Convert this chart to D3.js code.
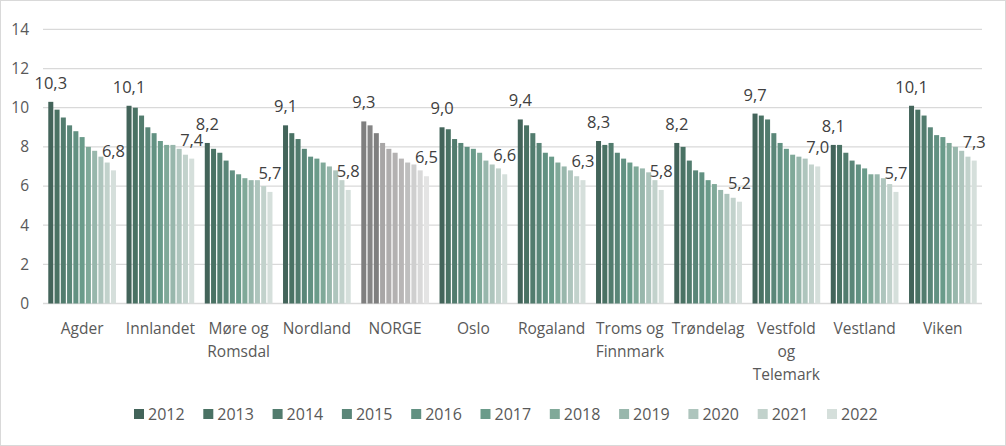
<!DOCTYPE html>
<html>
<head>
<meta charset="utf-8">
<script src="https://cdn.jsdelivr.net/npm/d3@7"></script>
<style>
  html, body { margin: 0; padding: 0; background: #fff; }
  svg { display: block; }
  text { font-family: "Open Sans", "Liberation Sans", sans-serif; }
</style>
</head>
<body>
<svg id="chart" width="1006" height="446"></svg>
<script>
const categories = ["Agder", "Innlandet", "Møre og Romsdal", "Nordland", "NORGE", "Oslo",
  "Rogaland", "Troms og Finnmark", "Trøndelag", "Vestfold og Telemark", "Vestland", "Viken"];
const years = ["2012", "2013", "2014", "2015", "2016", "2017", "2018", "2019", "2020", "2021", "2022"];

const agder      = [10.3, 9.9, 9.5, 9.1, 8.8, 8.5, 8.0, 7.8, 7.5, 7.2, 6.8];
const innlandet  = [10.1, 10.0, 9.6, 9.0, 8.7, 8.3, 8.1, 8.1, 7.9, 7.6, 7.4];
const moreRomsdal= [8.2, 7.9, 7.7, 7.3, 6.8, 6.6, 6.4, 6.3, 6.3, 6.0, 5.7];
const nordland   = [9.1, 8.7, 8.4, 7.9, 7.5, 7.4, 7.2, 7.0, 6.8, 6.3, 5.8];
const norge      = [9.3, 9.1, 8.7, 8.2, 7.9, 7.7, 7.4, 7.2, 7.1, 6.8, 6.5];
const oslo       = [9.0, 8.9, 8.4, 8.2, 8.0, 7.9, 7.7, 7.3, 7.1, 6.9, 6.6];
const rogaland   = [9.4, 9.1, 8.7, 8.2, 7.7, 7.5, 7.2, 7.0, 6.8, 6.5, 6.3];
const tromsFinnmark = [8.3, 8.1, 8.2, 7.7, 7.4, 7.2, 7.0, 6.9, 6.7, 6.3, 5.8];
const trondelag  = [8.2, 8.0, 7.3, 6.8, 6.7, 6.3, 6.1, 5.8, 5.6, 5.4, 5.2];
const vestfoldTelemark = [9.7, 9.6, 9.4, 8.7, 8.2, 7.9, 7.6, 7.5, 7.4, 7.1, 7.0];
const vestland   = [8.1, 8.1, 7.7, 7.3, 7.1, 6.9, 6.6, 6.6, 6.4, 6.1, 5.7];
const viken      = [10.1, 9.9, 9.6, 9.0, 8.6, 8.5, 8.2, 8.0, 7.8, 7.5, 7.3];

const yTicks = [0, 2, 4, 6, 8, 10, 12, 14];

const greenColors = ["#43645A", "#4A7264", "#527C6E", "#5A8678", "#629182", "#6A9B8A",
  "#80A999", "#98B7AC", "#AEC5BD", "#C2D2CC", "#D5DFDB"];
const grayColors = ["#7F7F7F", "#858585", "#7F7F7F", "#A8A6A6", "#AFADAD", "#B3B1B1",
  "#B8B6B6", "#BFBFBF", "#CFCFCF", "#D9D9D9", "#E4E4E4"];

const seriesByCat = [agder, innlandet, moreRomsdal, nordland, norge, oslo, rogaland,
  tromsFinnmark, trondelag, vestfoldTelemark, vestland, viken];

const svg = d3.select("#chart");
const W = 1006, H = 446;

// border
svg.append("rect").attr("x", 0.5).attr("y", 0.5).attr("width", W - 1).attr("height", H - 1)
  .attr("fill", "#fff").attr("stroke", "#D9D9D9").attr("stroke-width", 1);

const plotLeft = 43, plotRight = 982, plotBottom = 303.5, plotTop = 29.4;

const y = d3.scaleLinear().domain([0, 14]).range([plotBottom, plotTop]);
const x0 = d3.scaleBand().domain(categories).range([plotLeft, plotRight])
  .paddingInner(0.135).paddingOuter(0.0675);
const x1 = d3.scaleBand().domain(years).range([0, x0.bandwidth()]).paddingInner(0.2);

// gridlines
svg.append("g").selectAll("line").data(yTicks).join("line")
  .attr("x1", plotLeft).attr("x2", plotRight)
  .attr("y1", d => y(d)).attr("y2", d => y(d))
  .attr("stroke", "#D9D9D9").attr("stroke-width", 1.3);

// y tick labels
svg.append("g").selectAll("text").data(yTicks).join("text")
  .attr("x", 29).attr("y", d => y(d)).attr("dy", "0.35em")
  .attr("text-anchor", "end").attr("fill", "#595959").attr("font-size", "15.5px")
  .text(d => d);

const fmt = v => d3.format(".1f")(v).replace(".", ",");

// bars
const groups = svg.append("g").selectAll("g").data(categories).join("g")
  .attr("transform", d => `translate(${x0(d)},0)`);

groups.each(function(cat, ci) {
  const vals = seriesByCat[ci];
  const cols = cat === "NORGE" ? grayColors : greenColors;
  const g = d3.select(this);
  g.selectAll("rect").data(vals).join("rect")
    .attr("x", (v, i) => x1(years[i]))
    .attr("width", x1.bandwidth())
    .attr("y", v => y(v))
    .attr("height", v => y(0) - y(v))
    .attr("fill", (v, i) => cols[i]);
  const labelIdx = [0, vals.length - 1];
  g.selectAll("text.lbl").data(labelIdx).join("text").attr("class", "lbl")
    .attr("x", i => x1(years[i]) + x1.bandwidth() / 2)
    .attr("y", i => y(vals[i]) - 13)
    .attr("text-anchor", "middle").attr("fill", "#404040").attr("font-size", "16.5px")
    .text(i => fmt(vals[i]));
});

// category labels with wrapping
const step = x0.step();
const catG = svg.append("g");
categories.forEach(cat => {
  const cx = x0(cat) + x0.bandwidth() / 2;
  const t = catG.append("text").attr("x", cx).attr("y", 334)
    .attr("text-anchor", "middle").attr("fill", "#595959").attr("font-size", "15.5px");
  const words = cat.split(" ");
  let lines = [];
  let line = [];
  const tmp = t.append("tspan");
  words.forEach(w => {
    const trial = line.concat([w]).join(" ");
    tmp.text(trial);
    if (tmp.node().getComputedTextLength() > step - 3 && line.length) {
      lines.push(line.join(" "));
      line = [w];
    } else {
      line.push(w);
    }
  });
  lines.push(line.join(" "));
  tmp.remove();
  lines.forEach((l, i) => {
    t.append("tspan").attr("x", cx).attr("dy", i === 0 ? 0 : 23).text(l);
  });
});

// legend
const legend = svg.append("g");
years.forEach((yr, i) => {
  const lx = 134 + i * 69.3;
  legend.append("rect").attr("x", lx).attr("y", 409).attr("width", 10).attr("height", 10)
    .attr("fill", greenColors[i]);
  legend.append("text").attr("x", lx + 14).attr("y", 414).attr("dy", "0.36em")
    .attr("fill", "#595959").attr("font-size", "16px").text(yr);
});
</script>
</body>
</html>
